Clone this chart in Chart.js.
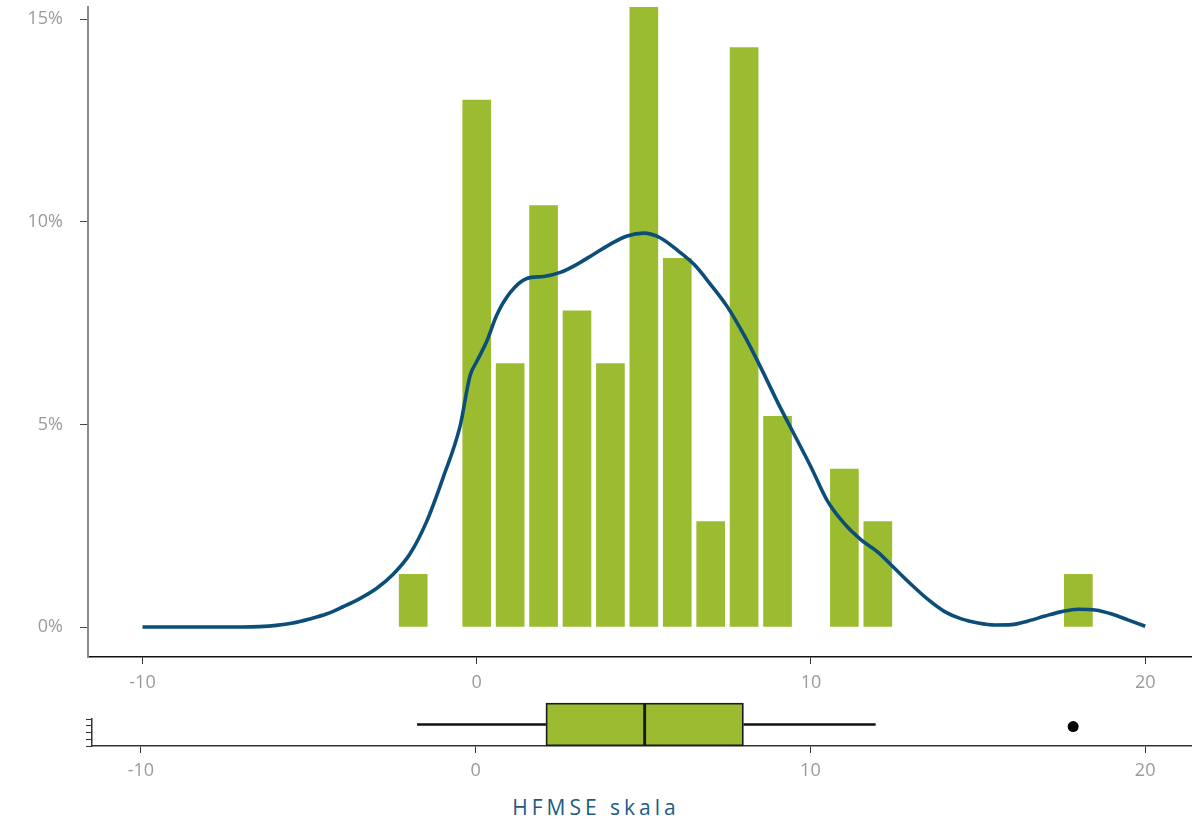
<!DOCTYPE html>
<html>
<head>
<meta charset="utf-8">
<script src="https://cdn.jsdelivr.net/npm/chart.js@4/dist/chart.umd.min.js"></script>
<style>
html,body{margin:0;padding:0;background:#fff;width:1192px;height:825px;overflow:hidden;position:relative;font-family:'Open Sans',sans-serif}
#top{position:absolute;left:0;top:0;width:1192px;height:700px}
#bot{position:absolute;left:0;top:700px;width:1192px;height:90px}
#title{position:absolute;left:0;width:1192px;top:793px;text-align:center;font-size:21px;letter-spacing:4px;color:#1d5b86;font-family:'Open Sans',sans-serif;font-weight:500}
</style>
</head>
<body>
<canvas id="top" width="1192" height="700"></canvas>
<canvas id="bot" width="1192" height="90"></canvas>
<div id="title">HFMSE skala</div>
<script>
// Histogram bins (HFMSE score) and share of patients (%)
const binCenters = [-1.9, 0, 1, 2, 3, 4, 5, 6, 7, 8, 9, 11, 12, 18];
const binPct     = [1.3, 13.0, 6.5, 10.4, 7.8, 6.5, 15.3, 9.1, 2.6, 14.3, 5.2, 3.9, 2.6, 1.3];

// Density curve (%)
const curveX   = [-10, -9, -8, -7, -6.5, -6, -5.5, -5, -4.5, -4, -3.5, -3, -2.5, -2, -1.5, -1, -0.5, -0.2, 0, 0.3, 0.6, 1, 1.5, 2, 2.5, 3, 3.5, 4, 4.5, 5, 5.5, 6, 6.5, 7, 7.5, 8, 8.5, 9, 9.5, 10, 10.5, 11, 11.5, 12, 12.5, 13, 13.5, 14, 14.5, 15, 15.5, 16, 16.5, 17, 17.5, 18, 18.5, 19, 19.5, 20];
const curvePct = [0, 0, 0, 0, 0.01, 0.04, 0.1, 0.2, 0.32, 0.5, 0.7, 0.95, 1.3, 1.8, 2.6, 3.7, 4.95, 6.2, 6.55, 7.05, 7.7, 8.25, 8.6, 8.65, 8.75, 8.95, 9.2, 9.45, 9.65, 9.72, 9.6, 9.3, 8.95, 8.45, 7.9, 7.2, 6.4, 5.55, 4.75, 3.95, 3.1, 2.55, 2.15, 1.85, 1.45, 1.05, 0.68, 0.38, 0.2, 0.1, 0.05, 0.06, 0.15, 0.27, 0.38, 0.44, 0.42, 0.32, 0.17, 0.02];

// Box plot statistics
const whiskerLow  = -1.75;
const q1          = 2.1;
const median      = 5.05;
const q3          = 8.0;
const whiskerHigh = 11.95;
const outliers    = [17.85];

// Tick labels
const xTicks = [-10, 0, 10, 20];
const yTicks = [0, 5, 10, 15];

const GREEN = '#9bbb31';
const BLUE = '#0b4e79';
const TICK_FONT = {family: "'Open Sans', sans-serif", size: 18};
const TICK_COLOR = '#9a9a9a';

// ---------- Top chart: histogram + density ----------
new Chart(document.getElementById('top'), {
  type: 'bar',
  data: {
    datasets: [
      {
        type: 'line',
        data: curveX.map((x, i) => ({x: x, y: curvePct[i]})),
        borderColor: BLUE,
        borderWidth: 3.6,
        pointRadius: 0,
        cubicInterpolationMode: 'monotone',
        fill: false,
        order: 0
      },
      {
        type: 'bar',
        data: binCenters.map((x, i) => ({x: x, y: binPct[i]})),
        backgroundColor: GREEN,
        borderWidth: 0,
        barThickness: 28,
        order: 1
      }
    ]
  },
  options: {
    responsive: false,
    animation: false,
    events: [],
    layout: {autoPadding: false, padding: {top: 7, right: 0, left: 0, bottom: 0}},
    plugins: {legend: {display: false}, tooltip: {enabled: false}},
    scales: {
      x: {
        type: 'linear',
        min: -11.63, max: 21.4,
        offset: false,
        afterBuildTicks: s => { s.ticks = xTicks.map(v => ({value: v})); },
        afterFit: s => { s.height = 43; s.paddingLeft = 0; s.paddingRight = 0; },
        grid: {display: true, drawOnChartArea: false, drawTicks: true, tickLength: 7, color: '#333', offset: false},
        border: {display: true, color: '#111', width: 1.6},
        ticks: {font: TICK_FONT, color: TICK_COLOR, padding: 8, maxRotation: 0}
      },
      y: {
        type: 'linear',
        min: -0.74, max: 15.3,
        afterBuildTicks: s => { s.ticks = yTicks.map(v => ({value: v})); },
        afterFit: s => { s.width = 88; s.paddingTop = 0; s.paddingBottom = 0; },
        grid: {display: true, drawOnChartArea: false, drawTicks: true, tickLength: 8, color: '#444'},
        border: {display: true, color: '#8a8a8a', width: 2},
        ticks: {font: TICK_FONT, color: TICK_COLOR, padding: 17, callback: v => v + '%'}
      }
    }
  }
});

// ---------- Bottom chart: box plot ----------
const BOX_Y = 0.796;
new Chart(document.getElementById('bot'), {
  type: 'bar',
  data: {
    datasets: [
      {
        type: 'bar', indexAxis: 'y', grouped: false,
        data: [{x: [q1, median], y: BOX_Y}],
        backgroundColor: GREEN, borderColor: '#1a1a1a', borderWidth: 1.8, borderSkipped: false,
        barThickness: 43, clip: false, order: 1
      },
      {
        type: 'bar', indexAxis: 'y', grouped: false,
        data: [{x: [median, q3], y: BOX_Y}],
        backgroundColor: GREEN, borderColor: '#1a1a1a', borderWidth: 1.8, borderSkipped: false,
        barThickness: 43, clip: false, order: 1
      },
      {
        type: 'line',
        data: [{x: whiskerLow, y: BOX_Y}, {x: q1, y: BOX_Y}],
        borderColor: '#111', borderWidth: 2.4, pointRadius: 0, clip: false, order: 2
      },
      {
        type: 'line',
        data: [{x: q3, y: BOX_Y}, {x: whiskerHigh, y: BOX_Y}],
        borderColor: '#111', borderWidth: 2.4, pointRadius: 0, clip: false, order: 2
      },
      {
        type: 'scatter',
        data: outliers.map(v => ({x: v, y: 0.72})),
        backgroundColor: '#000', borderColor: '#000', pointRadius: 5.5, borderWidth: 0, clip: false, order: 0
      }
    ]
  },
  options: {
    responsive: false,
    animation: false,
    events: [],
    layout: {autoPadding: false, padding: {top: 19, right: 0, left: 0, bottom: 0}},
    plugins: {legend: {display: false}, tooltip: {enabled: false}},
    scales: {
      x: {
        type: 'linear',
        min: -11.46, max: 21.4,
        offset: false,
        afterBuildTicks: s => { s.ticks = xTicks.map(v => ({value: v})); },
        afterFit: s => { s.height = 44; s.paddingLeft = 0; s.paddingRight = 0; },
        grid: {display: true, drawOnChartArea: false, drawTicks: true, tickLength: 7, color: '#333', offset: false},
        border: {display: true, color: '#333', width: 1.6},
        ticks: {font: TICK_FONT, color: TICK_COLOR, padding: 7, maxRotation: 0}
      },
      y: {
        type: 'linear',
        min: 0, max: 1,
        offset: false,
        afterBuildTicks: s => { s.ticks = [0, 0.25, 0.5, 0.75, 1].map(v => ({value: v})); },
        afterFit: s => { s.width = 92; s.paddingTop = 0; s.paddingBottom = 0; },
        grid: {display: true, drawOnChartArea: false, drawTicks: true, tickLength: 6, color: '#333', offset: false},
        border: {display: true, color: '#333', width: 1.5},
        ticks: {display: false}
      }
    }
  }
});
</script>
</body>
</html>
